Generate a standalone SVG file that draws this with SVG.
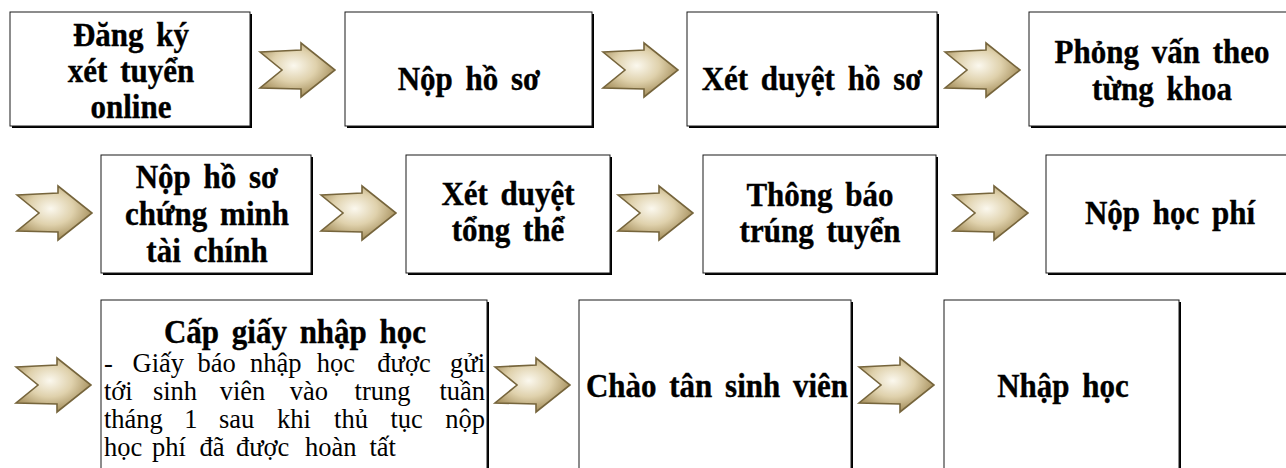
<svg xmlns="http://www.w3.org/2000/svg" width="1286" height="468" viewBox="0 0 1286 468">
<style>
.box{fill:#fff;stroke:#1a1a1a;stroke-width:1}
.sh{fill:#000}
.t{font-family:"Liberation Serif","Times New Roman",serif;font-weight:bold;font-size:31px;word-spacing:5px;fill:#000;stroke:#000;stroke-width:0.35px;text-anchor:middle}
.p{font-family:"Liberation Serif","Times New Roman",serif;font-size:26.5px;fill:#000}
.arrow{fill:url(#ag);stroke:#76653c;stroke-width:1.6;stroke-linejoin:miter}
</style>
<defs>
<radialGradient id="ag" cx="0.45" cy="0.42" r="0.6">
<stop offset="0" stop-color="#fbf8ee"/>
<stop offset="0.5" stop-color="#dfd1ac"/>
<stop offset="1" stop-color="#a08955"/>
</radialGradient>
<path id="arr" d="M0,-18 L41,-20 L41,-27 L75,0 L41,27 L41,19 L0,18 L22,0 Z"/>
</defs>
<rect width="1286" height="468" fill="#fff"/>
<g id="connectors">
<use href="#arr" class="arrow" transform="translate(260,70)"/>
<use href="#arr" class="arrow" transform="translate(603,70)"/>
<use href="#arr" class="arrow" transform="translate(945,70)"/>
<use href="#arr" class="arrow" transform="translate(17,213)"/>
<use href="#arr" class="arrow" transform="translate(321,213)"/>
<use href="#arr" class="arrow" transform="translate(618,213)"/>
<use href="#arr" class="arrow" transform="translate(953,213)"/>
<use href="#arr" class="arrow" transform="translate(16,385)"/>
<use href="#arr" class="arrow" transform="translate(495,385)"/>
<use href="#arr" class="arrow" transform="translate(859,385)"/>
</g>
<g id="n1">
<rect class="sh" x="12" y="14" width="240" height="114"/>
<rect class="box" x="10" y="12" width="240" height="114"/>
<text class="t" transform="translate(131 46) scale(1 1.1)">Đăng ký</text>
<text class="t" transform="translate(131 82) scale(1 1.1)">xét tuyển</text>
<text class="t" transform="translate(131 118) scale(1 1.1)">online</text>
</g>
<g id="n2">
<rect class="sh" x="347" y="14" width="247" height="114"/>
<rect class="box" x="345" y="12" width="247" height="114"/>
<text class="t" transform="translate(469 90) scale(1 1.1)">Nộp hồ sơ</text>
</g>
<g id="n3">
<rect class="sh" x="689" y="14" width="250" height="114"/>
<rect class="box" x="687" y="12" width="250" height="114"/>
<text class="t" transform="translate(812 90) scale(1 1.1)">Xét duyệt hồ sơ</text>
</g>
<g id="n4">
<rect class="sh" x="1031" y="14" width="300" height="114"/>
<rect class="box" x="1029" y="12" width="300" height="114"/>
<text class="t" transform="translate(1162 63) scale(1 1.1)">Phỏng vấn theo</text>
<text class="t" transform="translate(1162 100) scale(1 1.1)">từng khoa</text>
</g>
<g id="n5">
<rect class="sh" x="103" y="157" width="210" height="118"/>
<rect class="box" x="101" y="155" width="210" height="118"/>
<text class="t" transform="translate(207 188) scale(1 1.1)">Nộp hồ sơ</text>
<text class="t" transform="translate(207 225) scale(1 1.1)">chứng minh</text>
<text class="t" transform="translate(207 262) scale(1 1.1)">tài chính</text>
</g>
<g id="n6">
<rect class="sh" x="408" y="157" width="204" height="118"/>
<rect class="box" x="406" y="155" width="204" height="118"/>
<text class="t" transform="translate(508 205) scale(1 1.1)">Xét duyệt</text>
<text class="t" transform="translate(508 241) scale(1 1.1)">tổng thể</text>
</g>
<g id="n7">
<rect class="sh" x="705" y="157" width="233" height="118"/>
<rect class="box" x="703" y="155" width="233" height="118"/>
<text class="t" transform="translate(820 206) scale(1 1.1)">Thông báo</text>
<text class="t" transform="translate(820 242) scale(1 1.1)">trúng tuyển</text>
</g>
<g id="n8">
<rect class="sh" x="1048" y="157" width="300" height="118"/>
<rect class="box" x="1046" y="155" width="300" height="118"/>
<text class="t" transform="translate(1170 224) scale(1 1.1)">Nộp học phí</text>
</g>
<g id="n9">
<rect class="sh" x="103" y="302" width="386" height="200"/>
<rect class="box" x="101" y="300" width="386" height="200"/>
<text class="t" transform="translate(295 343) scale(1 1.1)">Cấp giấy nhập học</text>
<text class="p" transform="translate(0 372) scale(1 1.05)"><tspan x="104">-</tspan><tspan x="158.3" text-anchor="middle">Giấy</tspan><tspan x="216.7" text-anchor="middle">báo</tspan><tspan x="275.8" text-anchor="middle">nhập</tspan><tspan x="335.8" text-anchor="middle">học</tspan><tspan x="404" text-anchor="middle">được</tspan><tspan x="485" text-anchor="end">gửi</tspan></text>
<text class="p" transform="translate(0 400) scale(1 1.05)"><tspan x="104">tới</tspan><tspan x="175" text-anchor="middle">sinh</tspan><tspan x="242.5" text-anchor="middle">viên</tspan><tspan x="309" text-anchor="middle">vào</tspan><tspan x="382.5" text-anchor="middle">trung</tspan><tspan x="485" text-anchor="end">tuần</tspan></text>
<text class="p" transform="translate(0 428) scale(1 1.05)"><tspan x="104">tháng</tspan><tspan x="190.8" text-anchor="middle">1</tspan><tspan x="236.7" text-anchor="middle">sau</tspan><tspan x="294" text-anchor="middle">khi</tspan><tspan x="351" text-anchor="middle">thủ</tspan><tspan x="406.7" text-anchor="middle">tục</tspan><tspan x="485" text-anchor="end">nộp</tspan></text>
<text class="p" transform="translate(0 456) scale(1 1.05)"><tspan x="104">học</tspan><tspan x="152">phí</tspan><tspan x="199.5">đã</tspan><tspan x="236">được</tspan><tspan x="305">hoàn</tspan><tspan x="369.5">tất</tspan></text>
</g>
<g id="n10">
<rect class="sh" x="581" y="302" width="272" height="200"/>
<rect class="box" x="579" y="300" width="272" height="200"/>
<text class="t" transform="translate(717 397) scale(1 1.1)">Chào tân sinh viên</text>
</g>
<g id="n11">
<rect class="sh" x="946" y="302" width="235" height="200"/>
<rect class="box" x="944" y="300" width="235" height="200"/>
<text class="t" transform="translate(1063 397) scale(1 1.1)">Nhập học</text>
</g>
</svg>
